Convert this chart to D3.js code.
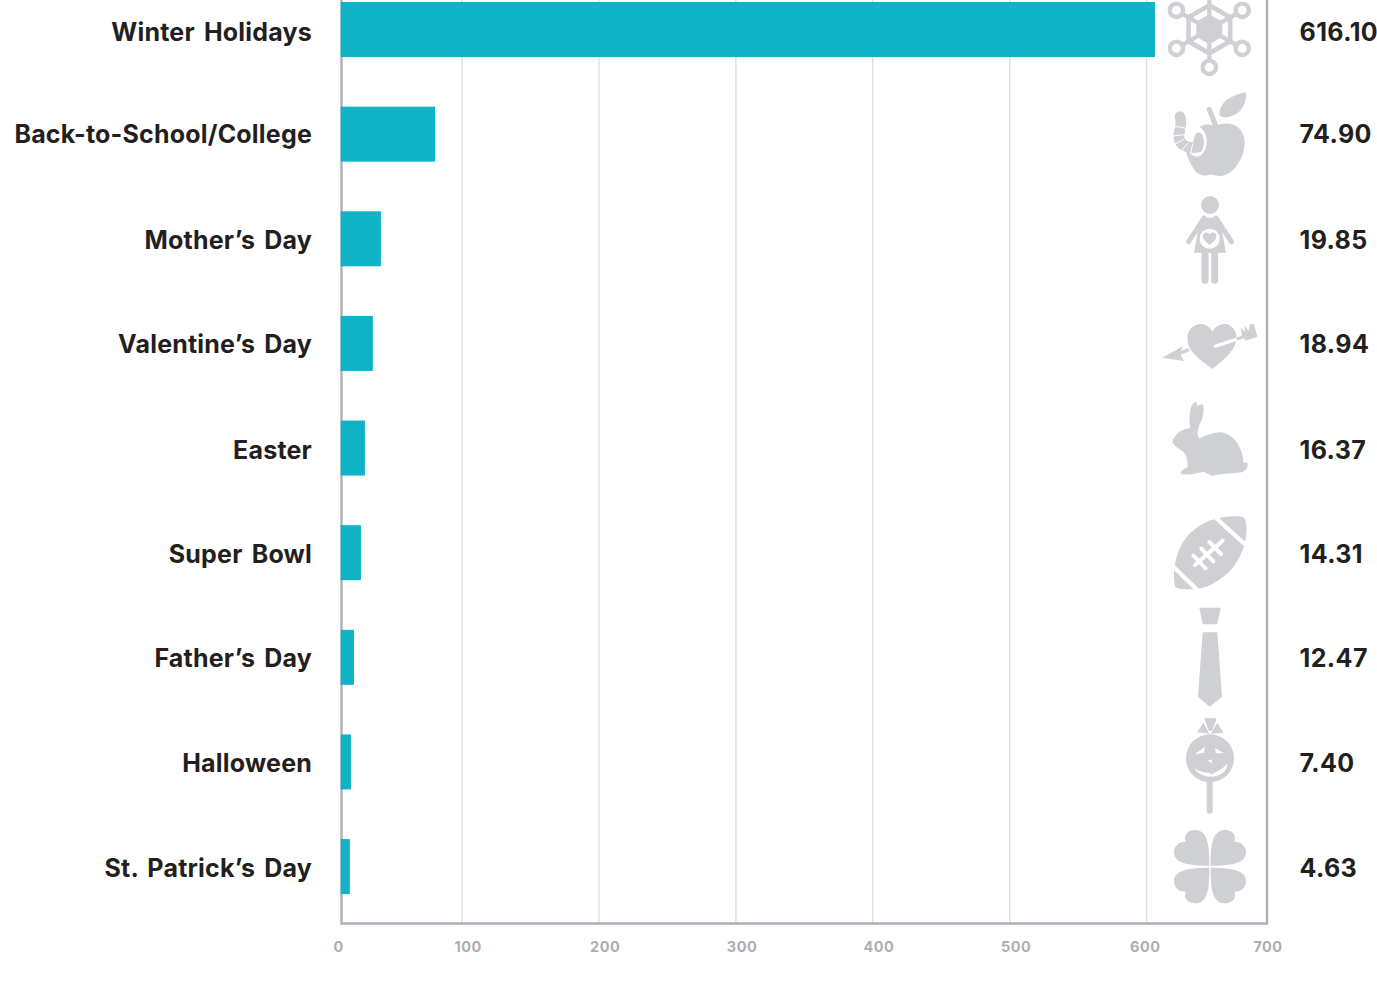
<!DOCTYPE html>
<html><head><meta charset="utf-8">
<script src="https://cdnjs.cloudflare.com/ajax/libs/d3/7.8.5/d3.min.js"></script>
<style>html,body{margin:0;padding:0;background:#fff;overflow:hidden}svg{display:block}
text{font-family:Inter,"Noto Sans",sans-serif;font-weight:700}</style></head><body>
<svg id="c" width="1377" height="994"></svg>
<script>
const categories=["Winter Holidays","Back-to-School/College","Mother’s Day","Valentine’s Day","Easter","Super Bowl","Father’s Day","Halloween","St. Patrick’s Day"];
const barValues=[606.1,80.2,40.7,34.8,29,26.1,21,18.8,18];
const valueLabels=["616.10","74.90","19.85","18.94","16.37","14.31","12.47","7.40","4.63"];
const axisTicks=[0,100,200,300,400,500,600,700];
const gridTicks=[100,200,300,400,500,600];

const GREY="#cfd0d4",W="#fff";
const svg=d3.select("#c");
const x=d3.scaleLinear().domain([0,700]).range([325.2,1283.5]);
const y=d3.scaleBand().domain(categories).range([-22.8,918.9]).paddingInner(.4743).paddingOuter(.2372);
const L=341.5,R=1267,B=923.5,T=0,iconX=1210;
const labelNudge=[1.5,-.5,1.2,-.2,1.5,.5,.5,.5,.5];
const tickNudge={0:13,100:5.6,200:5.6,300:5.6,400:5.6,500:6,600:-1.8,700:-16};

svg.append("g").selectAll("line").data(gridTicks).join("line")
 .attr("x1",d=>x(d)).attr("x2",d=>x(d)).attr("y1",T).attr("y2",B)
 .attr("stroke","#dcdde0").attr("stroke-width",1.4);

const axis=d3.axisBottom(x).tickValues(axisTicks).tickSize(0).tickPadding(0).tickFormat(d3.format("d"));
const ag=svg.append("g").attr("transform",`translate(0,${B})`).call(axis);
ag.select(".domain").remove();
ag.selectAll("text").attr("font-size",14.5).attr("fill","#aeaeb2").attr("y",28).attr("dy",0)
  .style("font-family","Inter,sans-serif").style("font-weight",700).style("letter-spacing",".5px")
  .attr("dominant-baseline","auto").attr("transform",d=>`translate(${tickNudge[d]},0)`);

svg.append("path").attr("d",d3.line()([[L,T],[L,B],[R,B],[R,T]])).attr("fill","none")
 .attr("stroke","#aeb0b8").attr("stroke-width",2.4);

svg.append("g").selectAll("rect").data(categories).join("rect")
 .attr("x",340.7).attr("y",d=>y(d)).attr("height",y.bandwidth())
 .attr("width",(d,i)=>x(barValues[i])-340.7).attr("fill","#10b2c6");

const cy=d=>y(d)+y.bandwidth()/2;
svg.append("g").selectAll("text").data(categories).join("text")
 .attr("x",312).attr("y",(d,i)=>cy(d)+labelNudge[i]+9.5).attr("text-anchor","end")
 .attr("font-size",25).attr("fill","#231f20").style("letter-spacing",".2px").style("word-spacing","3px").text(d=>d);
svg.append("g").selectAll("text").data(valueLabels).join("text")
 .attr("x",1299.5).attr("y",(d,i)=>cy(categories[i])+labelNudge[i]+9.5)
 .attr("font-size",25).attr("fill","#231f20").style("letter-spacing",".4px").text(d=>d);

const leaf="M-2,-3C-2,-60 -5,-110 -45,-110C-70,-110 -80,-90 -73,-75C-95,-75 -108,-60 -108,-45C-108,-18 -85,-3 -2,-3Z";
const hex=r=>d3.range(6).map(k=>[r*Math.sin(k*Math.PI/3),-r*Math.cos(k*Math.PI/3)]);
const flakeSpokes=hex(114).map(p=>`<line x1="0" y1="0" x2="${p[0]}" y2="${p[1]}" stroke="${GREY}" stroke-width="13"/><circle cx="${p[0]}" cy="${p[1]}" r="20" fill="#fff" stroke="${GREY}" stroke-width="13"/>`).join("");
const icons=[
 {oy:0,svg:`<g transform="translate(208,88)">${flakeSpokes}
   <path d="M${hex(72).join("L")}Z" fill="none" stroke="${GREY}" stroke-width="14"/>
   <path d="M${hex(45).join("L")}Z" fill="${GREY}"/></g>`},
 {oy:0,svg:`<path d="M238,345C240,300 280,285 318,277C320,310 305,345 260,352C250,353 244,350 238,345Z" fill="${GREY}"/>
  <line x1="208" y1="328" x2="228" y2="380" stroke="${GREY}" stroke-width="15" stroke-linecap="round"/>
  <path d="M225,378C260,362 300,370 312,410C325,460 280,530 240,528C225,527 218,522 205,525C190,530 170,525 160,505C148,485 140,470 138,450C135,395 190,360 225,378Z" fill="${GREY}"/>
  <ellipse cx="170" cy="425" rx="30" ry="45" fill="#fff"/><ellipse cx="176" cy="427" rx="16" ry="30" fill="${GREY}"/>
  <path d="M120,350C130,375 112,395 118,420C125,440 150,445 172,442" fill="none" stroke="${GREY}" stroke-width="32" stroke-linecap="round"/>
  <path d="M102,378L142,386M99,408L135,404M105,432L132,418M125,452L145,428M152,460L158,430" stroke="#fff" stroke-width="3" fill="none"/>`},
 {oy:190,svg:`<circle cx="210" cy="45" r="27" fill="${GREY}"/>
  <path d="M188,78C200,86 220,86 232,78L242,100L258,188H162L178,100Z" fill="${GREY}"/>
  <path d="M192,84L146,155M228,84L274,155" stroke="${GREY}" stroke-width="15" stroke-linecap="round"/>
  <path d="M195,185V271M224,185V271" stroke="${GREY}" stroke-width="21" stroke-linecap="round"/>
  <circle cx="209" cy="146" r="30" fill="#fff"/>
  <path d="M209,165C195,154 187,146 189,136C192,125 205,126 209,134C213,126 226,125 229,136C231,146 223,154 209,165Z" fill="${GREY}"/>`},
 {oy:190,svg:`<path d="M217,425C205,405 190,400 175,403C150,408 140,430 143,455C148,490 190,515 217,537C245,515 280,490 290,450C293,420 270,402 255,402C240,402 225,410 217,425Z" fill="${GREY}"/>
  <line x1="222" y1="470" x2="292" y2="447" stroke="#fff" stroke-width="10"/>
  <line x1="290" y1="447" x2="330" y2="434" stroke="${GREY}" stroke-width="10"/>
  <path d="M302,412L314,426L314,408L327,422L328,403L342,402L352,440L318,452L306,438Z" fill="${GREY}"/>
  <path d="M66,503L130,468L119,488L132,513Z" fill="${GREY}"/>
  <line x1="115" y1="491" x2="147" y2="479" stroke="${GREY}" stroke-width="10"/>`},
 {oy:390,svg:`<path d="M165,36C150,45 147,70 150,115C130,115 105,130 97,155C100,165 115,175 130,185C145,205 142,220 143,232C130,238 120,245 122,252C140,257 165,250 190,245C200,248 205,252 215,258C250,250 285,250 305,247C320,240 325,230 322,218L310,218C310,180 285,130 240,127C215,127 195,140 178,145C170,135 172,125 178,105C190,85 192,60 190,45C185,40 175,45 173,50C172,42 170,36 165,36Z" fill="${GREY}"/>`},
 {oy:390,svg:`<path d="M105,590C95,540 110,470 150,430C190,390 250,375 306,380C325,385 322,440 308,480C290,530 255,565 200,590C170,600 115,600 105,590Z" fill="${GREY}"/>
  <path d="M218,375L325,472M92,522L178,606" stroke="#fff" stroke-width="13" fill="none"/>
  <path d="M165,525L248,452M160,497L197,535M184,476L220,514M208,456L243,492" stroke="#fff" stroke-width="12" stroke-linecap="round" fill="none"/>`},
 {oy:600,svg:`<path d="M178,23H242L232,73H188ZM188,97H232L246,290L209,320L174,290Z" fill="${GREY}"/>`},
 {oy:600,svg:`<circle cx="210" cy="475" r="72" fill="${GREY}"/>
  <line x1="209" y1="530" x2="209" y2="632" stroke="${GREY}" stroke-width="18" stroke-linecap="round"/>
  <path d="M193,355H230L216,392H206ZM190,368L172,397L208,401ZM232,368L250,398L212,401Z" fill="${GREY}"/>
  <path d="M165,462L195,440L192,458ZM253,460L225,445L228,460ZM203,482L215,478L217,490Z" fill="#fff"/>
  <path d="M163,505C180,515 195,520 210,518L212,524L232,514C245,508 255,500 262,490C262,515 240,532 205,530C190,527 170,520 163,505Z" fill="#fff"/>`},
 {oy:815,svg:`<g transform="translate(210,155)"><path d="${leaf}" fill="${GREY}"/><path d="${leaf}" fill="${GREY}" transform="scale(-1,1)"/><path d="${leaf}" fill="${GREY}" transform="scale(1,-1)"/><path d="${leaf}" fill="${GREY}" transform="scale(-1,-1)"/></g>`}
];
svg.append("g").selectAll("g").data(categories).join("g")
 .attr("transform",(d,i)=>`translate(${iconX-70},${icons[i].oy}) scale(${1/3})`)
 .html((d,i)=>icons[i].svg);
</script></body></html>
